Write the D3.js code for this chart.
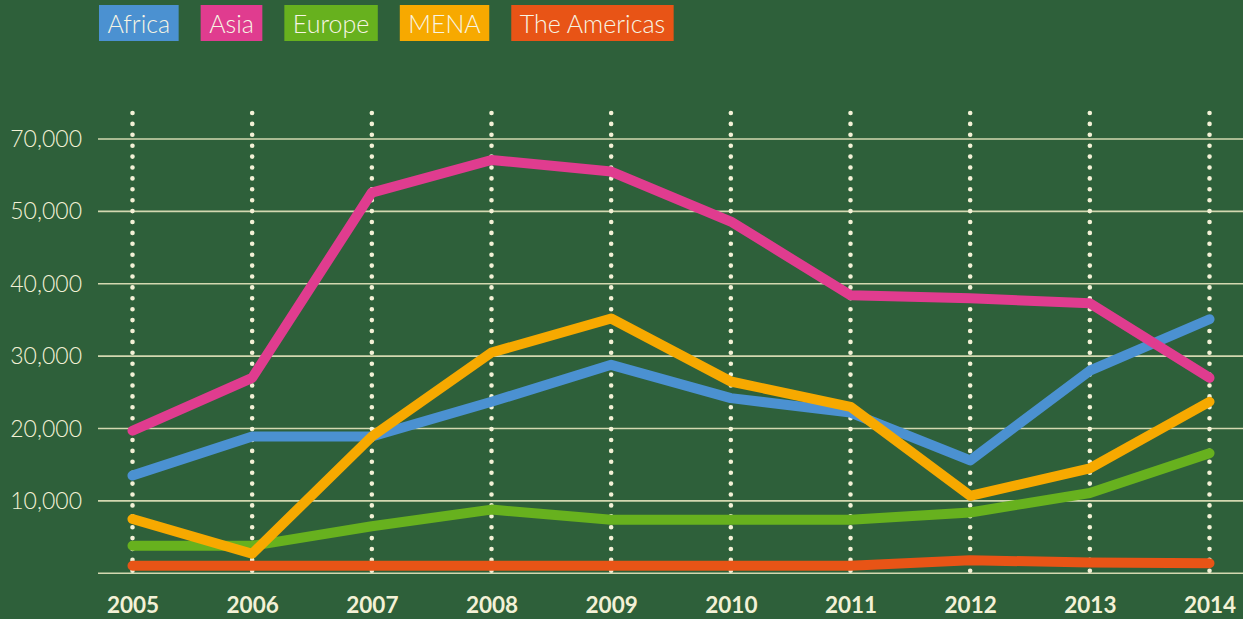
<!DOCTYPE html>
<html><head><meta charset="utf-8">
<script src="https://cdn.jsdelivr.net/npm/d3@7"></script>
<style>
html,body{margin:0;padding:0;background:#2E603A;}
svg{display:block;}
text{font-family:Lato,"Open Sans","Noto Sans",sans-serif;}
</style></head><body>
<script>
const years = [2005,2006,2007,2008,2009,2010,2011,2012,2013,2014];
const seriesNames = ["Africa","Asia","Europe","MENA","The Americas"];
const seriesColors = ["#4B91D1","#E03C8F","#67B11E","#F7A900","#E85416"];
const africa   = [13500,18900,18900,23700,28800,24200,22200,15600,28000,35100];
const asia     = [19700,27000,52600,57100,55500,48600,38400,38000,37300,27000];
const europe   = [3800,3800,6500,8800,7400,7400,7400,8400,11100,16600];
const mena     = [7500,2700,18900,30500,35200,26500,23000,10700,14500,23700];
const americas = [1050,1050,1050,1050,1050,1050,1050,1800,1500,1400];
const tickValues = [0,10000,20000,30000,40000,50000,60000];
const tickLabels = ["","10,000","20,000","30,000","40,000","50,000","70,000"];

const W=1243,H=619;
const svg=d3.select("body").append("svg").attr("width",W).attr("height",H);
svg.append("rect").attr("width",W).attr("height",H).attr("fill","#2E603A");

const x=d3.scalePoint().domain(years).range([132.5,1209.5]);
const y=d3.scaleLinear().domain([0,60000]).range([573.3,139]);
const cream="#F3F1D6", grid="#D3D8B0";

// gridlines
const yAxis=d3.axisLeft(y).tickValues(tickValues).tickFormat((d,i)=>tickLabels[i]).tickSize(0).tickPadding(0);
const ya=svg.append("g").attr("transform","translate(82,0)").call(yAxis);
ya.select(".domain").remove();
ya.selectAll("text").attr("fill",cream).attr("font-size",23).attr("font-weight",300).attr("dy","0.33em");
svg.append("g").selectAll("line").data(tickValues).join("line")
  .attr("x1",98).attr("x2",W).attr("y1",d=>y(d)).attr("y2",d=>y(d))
  .attr("stroke",grid).attr("stroke-width",1.6);

// dotted verticals
svg.append("g").selectAll("line").data(years).join("line")
  .attr("x1",d=>x(d)).attr("x2",d=>x(d)).attr("y1",113).attr("y2",575)
  .attr("stroke",cream).attr("stroke-width",4.6).attr("stroke-linecap","round")
  .attr("stroke-dasharray","0,10.9");

// x axis labels
const xAxis=d3.axisBottom(x).tickSize(0).tickPadding(0);
const xa=svg.append("g").attr("transform","translate(0,612.5)").call(xAxis);
xa.select(".domain").remove();
xa.selectAll("text").attr("fill",cream).attr("font-size",22.5).attr("font-weight",700).attr("dy","0").attr("y",0);

// lines
const data={"Africa":africa,"Asia":asia,"Europe":europe,"MENA":mena,"The Americas":americas};
const order=["The Americas","Europe","Africa","Asia","MENA"];
const line=d3.line().x((d,i)=>x(years[i])).y(d=>y(d));
svg.append("g").selectAll("path").data(order).join("path")
  .attr("d",n=>line(data[n])).attr("fill","none")
  .attr("stroke",n=>seriesColors[seriesNames.indexOf(n)])
  .attr("stroke-width",10).attr("stroke-linecap","round").attr("stroke-linejoin","round");

// legend
const lg=svg.append("g");
let lx=99;
seriesNames.forEach((n,i)=>{
  const g=lg.append("g");
  const r=g.append("rect").attr("y",5).attr("height",36).attr("fill",seriesColors[i]);
  const t=g.append("text").text(n).attr("y",33).attr("font-size",25).attr("font-weight",300).attr("fill","#F7F5E4");
  const w=t.node().getComputedTextLength();
  r.attr("x",lx).attr("width",w+17);
  t.attr("x",lx+8.5);
  lx+=w+17+22;
});
</script>
</body></html>
